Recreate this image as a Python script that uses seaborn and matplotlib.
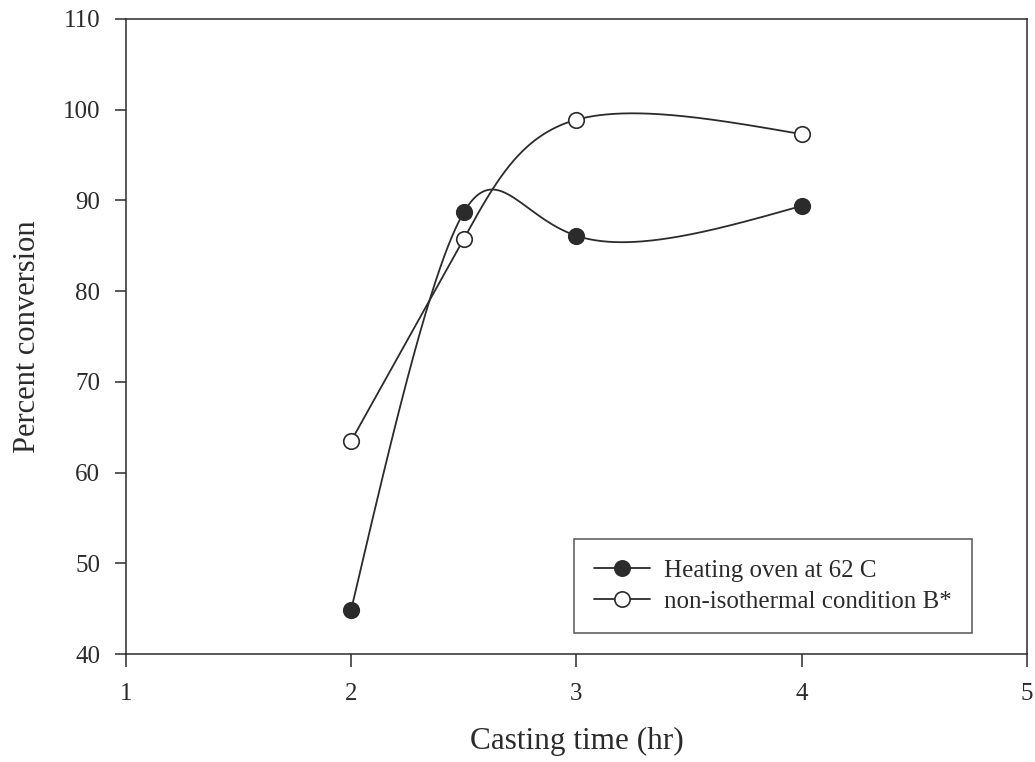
import numpy as np
import pandas as pd
import matplotlib
matplotlib.use("Agg")
import matplotlib.pyplot as plt
from matplotlib.lines import Line2D
import seaborn as sns

# Measured conversion at each casting time
casting_time = [2.0, 2.5, 3.0, 4.0]
oven_62c = [44.9, 88.7, 86.1, 89.4]
non_isothermal_b = [63.5, 85.8, 98.9, 97.3]

series_labels = ["Heating oven at 62 C", "non-isothermal condition B*"]
x_ticks = [1, 2, 3, 4, 5]
y_ticks = [40, 50, 60, 70, 80, 90, 100, 110]


def natural_second_derivs(v):
    """Second derivatives of a natural cubic spline on a unit-spaced knot grid."""
    k = len(v)
    A = np.zeros((k, k))
    b = np.zeros(k)
    A[0, 0] = A[-1, -1] = 1.0
    for i in range(1, k - 1):
        A[i, i - 1], A[i, i], A[i, i + 1] = 1.0, 4.0, 1.0
        b[i] = 6 * (v[i + 1] - 2 * v[i] + v[i - 1])
    return np.linalg.solve(A, b)


def eval_unit_spline(v, m, ts):
    idx = np.clip(np.floor(ts).astype(int), 0, len(v) - 2)
    s = ts - idx
    a = 1 - s
    return (v[idx] * a + v[idx + 1] * s
            + m[idx] / 6 * (a ** 3 - a) + m[idx + 1] / 6 * (s ** 3 - s))


def smooth_curve(x, y, per_segment=120):
    """Parametric natural spline through the points (one parameter step per point)."""
    x = np.asarray(x, float)
    y = np.asarray(y, float)
    ts = np.linspace(0, len(x) - 1, per_segment * (len(x) - 1) + 1)
    xs = eval_unit_spline(x, natural_second_derivs(x), ts)
    ys = eval_unit_spline(y, natural_second_derivs(y), ts)
    return xs, ys


sns.set_style("ticks")
plt.rcParams["font.family"] = ["Liberation Serif", "DejaVu Serif"]
ink = "#2b2b2b"

fig, ax = plt.subplots(figsize=(10.35, 7.62), dpi=100)
fig.subplots_adjust(left=0.1217, right=0.9923, top=0.9751, bottom=0.1417)

faces = [ink, "white"]
handles = []
for yvals, label, face in zip([oven_62c, non_isothermal_b], series_labels, faces):
    xs, ys = smooth_curve(casting_time, yvals)
    curve = pd.DataFrame({"x": xs, "y": ys})
    sns.lineplot(data=curve, x="x", y="y", ax=ax, color=ink, linewidth=1.3,
                 sort=False, estimator=None, zorder=2)
    pts = pd.DataFrame({"x": casting_time, "y": yvals})
    sns.scatterplot(data=pts, x="x", y="y", ax=ax, s=125, color=face,
                    edgecolor=ink, linewidth=1.2, zorder=3)
    handles.append(Line2D([], [], color=ink, linewidth=1.3, marker="o",
                          markersize=11, markerfacecolor=face,
                          markeredgecolor=ink, markeredgewidth=1.2))

ax.set_xlim(1, 5)
ax.set_ylim(40, 110)
ax.set_xticks(x_ticks)
ax.set_yticks(y_ticks)
ax.set_xticklabels([str(v) for v in x_ticks])
ax.set_yticklabels([str(v) for v in y_ticks])

for side in ["left", "bottom", "top", "right"]:
    ax.spines[side].set_visible(True)
    ax.spines[side].set_color(ink)
    ax.spines[side].set_linewidth(1.1)

ax.tick_params(axis="x", direction="out", length=9, width=1.1, pad=12,
               labelsize=18, colors=ink)
ax.tick_params(axis="y", direction="out", length=8, width=1.1, pad=10.5,
               labelsize=18, colors=ink)

ax.set_xlabel("Casting time (hr)", fontsize=22.5, color=ink, labelpad=16)
ax.set_ylabel("Percent conversion", fontsize=22, color=ink, labelpad=15)

leg = ax.legend(handles, series_labels, loc="upper left",
                bbox_to_anchor=(0.497, 0.181), borderaxespad=0,
                frameon=True, fancybox=False, shadow=False,
                fontsize=18, handlelength=2.25, handletextpad=0.55,
                borderpad=0.8, labelspacing=0.35)
leg.get_frame().set_edgecolor(ink)
leg.get_frame().set_linewidth(1.1)
for t in leg.get_texts():
    t.set_color(ink)

fig.savefig("out.png", dpi=100, facecolor="white")
